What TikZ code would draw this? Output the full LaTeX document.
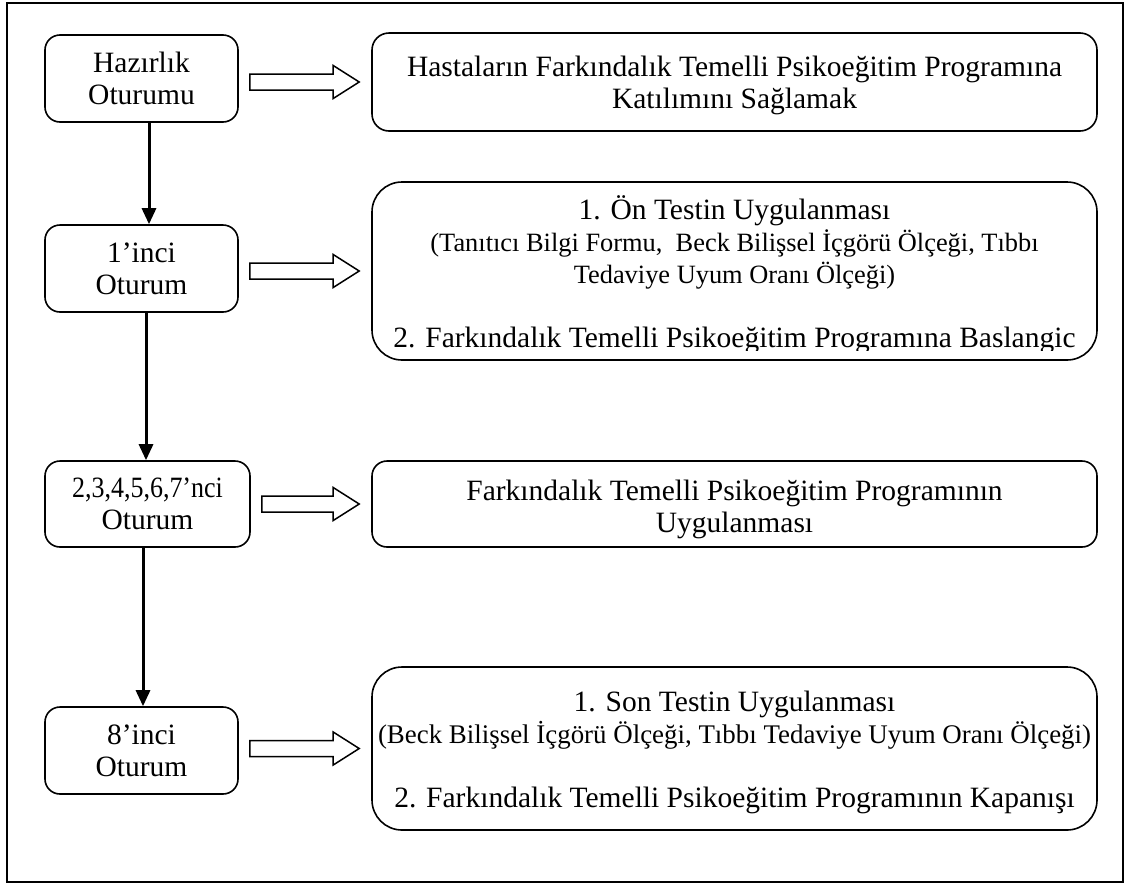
\documentclass[tikz,border=0pt]{standalone}
\usepackage{fontspec}
\setmainfont{Liberation Serif}
\usetikzlibrary{arrows.meta,calc}
\newcommand{\mainfnt}{\fontsize{29.5}{32}\selectfont}
\newcommand{\parfntA}{\fontsize{26.4}{32}\selectfont}
\newcommand{\parfntB}{\fontsize{26.9}{32}\selectfont}
\tikzset{
  box/.style={draw, line width=1.6pt, rectangle, inner sep=0pt, align=center, font=\mainfnt},
  lbox/.style={box, rounded corners=15pt, minimum height=87pt, minimum width=193pt},
  rbox/.style={box, minimum width=725pt},
  txt/.style={inner sep=0pt, align=center, font=\mainfnt},
  vline/.style={line width=3pt, -{Triangle[length=16pt,width=14pt]}},
  hollow/.style={draw, line width=1.5pt, fill=white, line join=miter},
  frame/.style={draw, line width=1.4pt}
}
\newcommand{\hollowarrow}[2]{%
  \draw[hollow] let \p1=(#1), \p2=(#2) in
    (\x1,\y1-8pt) -- (\x2-26pt,\y1-8pt) -- (\x2-26pt,\y1-16.5pt) -- (\x2,\y1)
    -- (\x2-26pt,\y1+16.5pt) -- (\x2-26pt,\y1+8pt) -- (\x1,\y1+8pt) -- cycle;}
\begin{document}
\begin{tikzpicture}[x=1pt,y=-1pt]
\useasboundingbox (0,0) rectangle (1126,884);
\draw[frame] (7,3) rectangle (1123,882);

% left column
\node[lbox] (L1) at (141.5,78.5) {Hazırlık\\Oturumu};
\node[lbox] (L2) at (141.5,268.5) {1’inci\\Oturum};
\node[lbox, minimum width=205pt, minimum height=86pt] (L3) at (147.5,504)
  {\scalebox{0.88}[1]{2,3,4,5,6,7’nci}\\Oturum};
\node[lbox] (L4) at (141.5,750.5) {8’inci\\Oturum};

% right column
\node[rbox, rounded corners=17pt, minimum height=98pt] (R1) at (734.5,82) {};
\node[txt] (R1t) at (734.5,85)
  {Hastaların Farkındalık Temelli Psikoeğitim Programına\\Katılımını Sağlamak};
\node[rbox, rounded corners=30pt, minimum height=178pt] (R2) at (734.5,271) {};
\begin{scope}
  \clip (372,182) rectangle (1097,350.5);
  \node[txt] (R2t) at (734.5,275)
    {1. Ön Testin Uygulanması\\
     {\parfntA (Tanıtıcı Bilgi Formu,~ Beck Bilişsel İçgörü Ölçeği, Tıbbı}\\
     {\parfntA Tedaviye Uyum Oranı Ölçeği)}\\[32pt]
     2. Farkındalık Temelli Psikoeğitim Programına Baslangic};
\end{scope}
\node[rbox, rounded corners=15pt, minimum height=86pt] (R3) at (734.5,504) {};
\node[txt] (R3t) at (734.5,509)
  {Farkındalık Temelli Psikoeğitim Programının\\Uygulanması};
\node[rbox, rounded corners=30pt, minimum height=163pt] (R4) at (734.5,748.5) {};
\node[txt] (R4t) at (734.5,752.5)
  {1. Son Testin Uygulanması\\
   {\parfntB (Beck Bilişsel İçgörü Ölçeği, Tıbbı Tedaviye Uyum Oranı Ölçeği)}\\[32pt]
   2. Farkındalık Temelli Psikoeğitim Programının Kapanışı};

% vertical arrows
\coordinate (v1) at ([xshift=7.5pt]L1.south);
\draw[vline] (v1) -- (v1 |- L2.north);
\coordinate (v2) at ([xshift=4.5pt]L2.south);
\draw[vline] (v2) -- (v2 |- L3.north);
\coordinate (v3) at ([xshift=-4.5pt]L3.south);
\draw[vline] (v3) -- (v3 |- L4.north);

% hollow arrows
\coordinate (a1s) at ($(L1.east |- R1.west)+(11,0)$);
\coordinate (a1e) at ($(R1.west)+(-12,0)$);
\coordinate (a2s) at ($(L2.east |- R2.west)+(11,0)$);
\coordinate (a2e) at ($(R2.west)+(-12,0)$);
\coordinate (a3s) at ($(L3.east |- R3.west)+(11,0)$);
\coordinate (a3e) at ($(R3.west)+(-12,0)$);
\coordinate (a4s) at ($(L4.east |- R4.west)+(11,0)$);
\coordinate (a4e) at ($(R4.west)+(-12,0)$);
\hollowarrow{a1s}{a1e}
\hollowarrow{a2s}{a2e}
\hollowarrow{a3s}{a3e}
\hollowarrow{a4s}{a4e}
\end{tikzpicture}
\end{document}
